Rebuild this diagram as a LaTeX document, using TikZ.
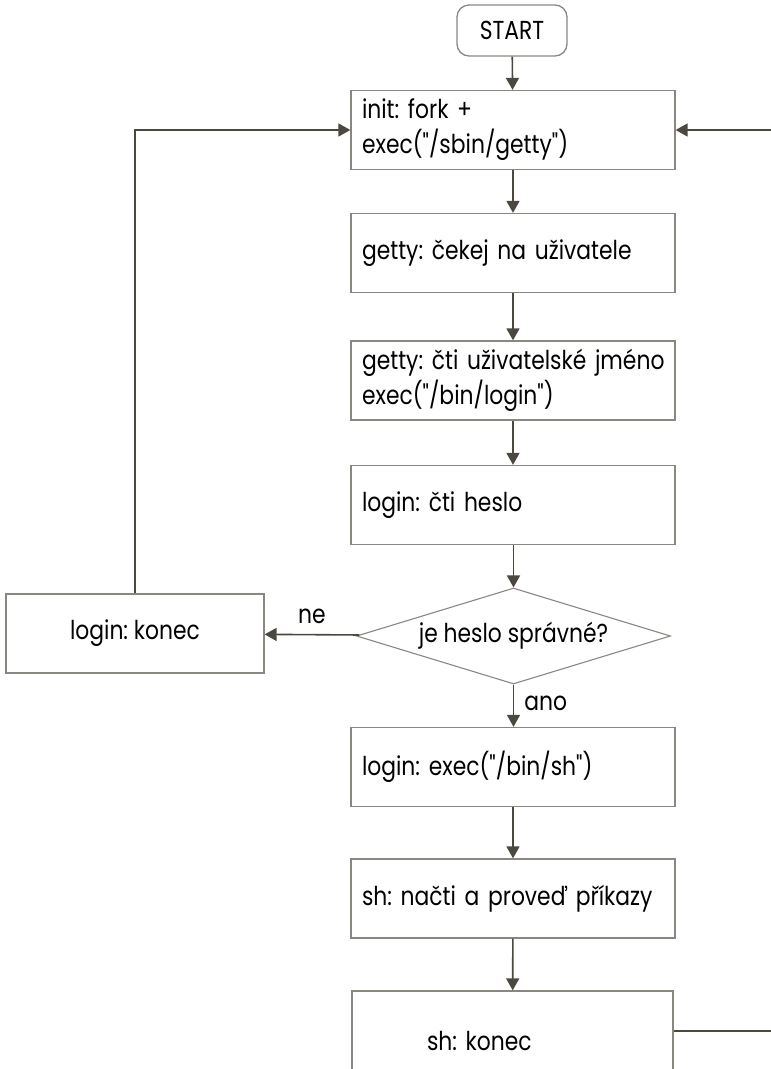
\documentclass[tikz,border=0pt]{standalone}
\usepackage{fontspec}
\setmainfont{Poppins}[FakeStretch=0.84,Ligatures=TeXOff]
\usetikzlibrary{arrows.meta,shapes.geometric}
\definecolor{edge}{HTML}{8A8780}
\definecolor{wire}{HTML}{4B483F}
\tikzset{
  every node/.style={font=\fontsize{26}{35}\selectfont\frenchspacing, text=black},
  stepbox/.style={draw=edge, line width=1.3pt, minimum width=324pt, minimum height=79pt,
    text width=302pt, align=left, inner xsep=11pt, inner ysep=0pt},
  endbox/.style={draw=edge, line width=1.3pt, rounded corners=12pt, minimum width=110pt,
    minimum height=51pt, inner sep=0pt},
  choice/.style={draw=edge, line width=1.1pt, diamond, aspect=3.27, inner sep=0pt,
    minimum width=314pt, minimum height=96pt},
  flow/.style={draw=wire, line width=1.6pt, -{Triangle[length=12pt,width=13pt]}},
  wireline/.style={draw=wire, line width=1.6pt},
  tag/.style={inner sep=0pt}
}
\begin{document}
\begin{tikzpicture}[x=1pt,y=-1pt]
\useasboundingbox (0,0) rectangle (771,1069);

\node[endbox] (start) at (512,30.5) {START};
\node[stepbox] (init) at (513,130) {init: fork +\\exec("/sbin/getty")};
\node[stepbox] (wait) at (513,253) {getty: čekej na uživatele};
\node[stepbox] (name) at (513,380.5) {\mbox{getty: čti uživatelské jméno}\\exec("/bin/login")};
\node[stepbox] (pass) at (513,505) {login: čti heslo};
\node[choice] (check) at (513.5,636) {je heslo správné?};
\node[draw=edge, line width=1.3pt, minimum width=258pt, minimum height=79pt] (fail) at (135,633.5) {login: konec};
\node[stepbox] (shell) at (513,767) {login: exec("/bin/sh")};
\node[stepbox] (cmds) at (513,898.5) {sh: načti a proveď příkazy};
\node[draw=edge, line width=1.3pt, minimum width=321pt, minimum height=100pt,
      text width=171pt, align=left, inner xsep=75pt, inner ysep=0pt] (quit) at (512.5,1041) {sh: konec};

\coordinate (rin) at (772,130);
\coordinate (rout) at (772,1031);

\draw[flow] (start) -- (init);
\draw[flow] (init) -- (wait);
\draw[flow] (wait) -- (name);
\draw[flow] (name) -- (pass);
\draw[flow] (pass.south -| check.north) -- (check.north);
\draw[flow] (check) -- node[tag, above=10pt] {ne} (fail);
\draw[flow] (check.south) -- node[tag, pos=0.45, right=10pt] {ano} (check.south |- shell.north);
\draw[flow] (shell) -- (cmds);
\draw[flow] (cmds) -- (quit);
\draw[flow] (fail.north) |- (init.west);
\draw[flow] (rin) -- (init.east);
\draw[wireline] (quit.east |- rout) -- (rout);
\end{tikzpicture}
\end{document}
